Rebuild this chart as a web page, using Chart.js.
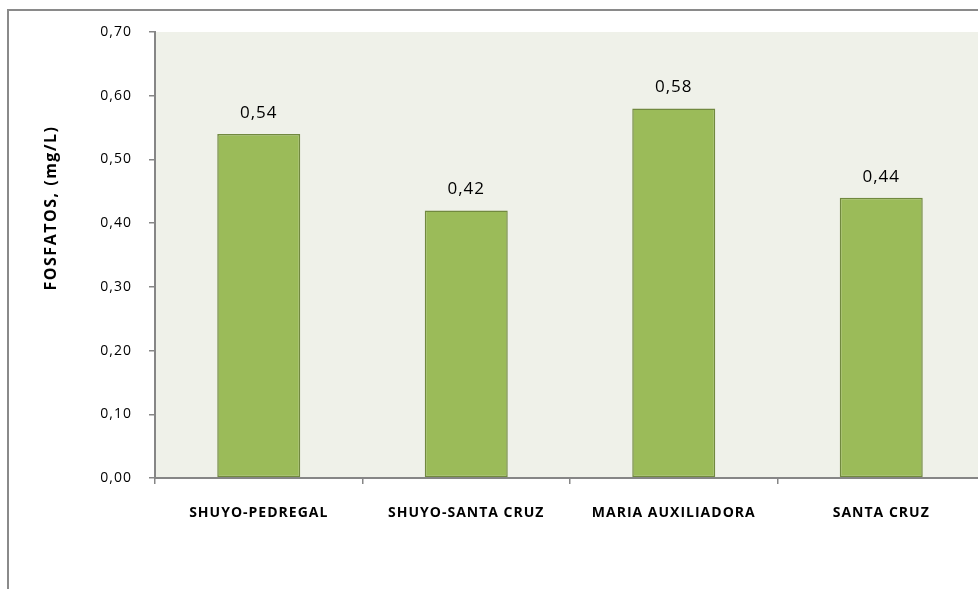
<!DOCTYPE html>
<html>
<head>
<meta charset="utf-8">
<script src="https://cdn.jsdelivr.net/npm/chart.js@4/dist/chart.umd.min.js"></script>
<style>
    html, body { margin: 0; padding: 0; background: #ffffff; overflow: hidden; }
    #caixa { position: relative; width: 1000px; height: 589px; }
</style>
</head>
<body>
<div id="caixa"><canvas id="grafico_fosfatos"></canvas></div>
<script>
// Pontos de coleta e fosfatos medidos (mg/L)
var pontos = ["SHUYO-PEDREGAL", "SHUYO-SANTA CRUZ", "MARIA AUXILIADORA", "SANTA CRUZ"];
var fosfatos = [0.54, 0.42, 0.58, 0.44];
var marcasY = [0.00, 0.10, 0.20, 0.30, 0.40, 0.50, 0.60, 0.70];
var tituloY = "FOSFATOS, (mg/L)";

var corEixo = "#868686";
var fonte = "'Open Sans', sans-serif";

function formatar(v) {
    return v.toFixed(2).replace(".", ",");
}

// Fundo branco, moldura externa e fundo da área de plotagem
var pluginFundo = {
    id: "fundo",
    beforeDraw: function (chart) {
        var ctx = chart.ctx;
        var area = chart.chartArea;
        ctx.save();
        ctx.fillStyle = "#ffffff";
        ctx.fillRect(0, 0, chart.width, chart.height);
        ctx.fillStyle = "#eff1e9";
        ctx.fillRect(area.left, area.top, area.right - area.left, area.bottom - area.top);
        ctx.strokeStyle = "#8a8a8a";
        ctx.lineWidth = 2;
        ctx.beginPath();
        ctx.moveTo(8, chart.height + 5);
        ctx.lineTo(8, 10);
        ctx.lineTo(chart.width + 5, 10);
        ctx.stroke();
        ctx.restore();
        ctx.letterSpacing = "1px";
    }
};

// Rótulos com o valor acima de cada barra
var pluginRotulos = {
    id: "rotulos",
    afterDatasetsDraw: function (chart) {
        var ctx = chart.ctx;
        var meta = chart.getDatasetMeta(0);
        ctx.save();
        ctx.letterSpacing = "1px";
        ctx.font = "17px " + fonte;
        ctx.fillStyle = "#000000";
        ctx.textAlign = "center";
        ctx.textBaseline = "alphabetic";
        meta.data.forEach(function (barra, i) {
            ctx.fillText(formatar(fosfatos[i]), barra.x, barra.y - 16);
        });
        ctx.restore();
    }
};

// Título do eixo Y
var pluginTituloY = {
    id: "tituloY",
    afterDraw: function (chart) {
        var ctx = chart.ctx;
        var area = chart.chartArea;
        ctx.save();
        ctx.letterSpacing = "1.5px";
        ctx.translate(51, (area.top + area.bottom) / 2 - 47);
        ctx.rotate(-Math.PI / 2);
        ctx.font = "bold 16px " + fonte;
        ctx.fillStyle = "#000000";
        ctx.textAlign = "center";
        ctx.textBaseline = "middle";
        ctx.fillText(tituloY, 0, 0);
        ctx.restore();
    }
};

var ctx1 = document.getElementById("grafico_fosfatos").getContext("2d");
var grafico = new Chart(ctx1, {
    type: "bar",
    data: {
        labels: pontos,
        datasets: [{
            label: "Fosfatos",
            data: fosfatos,
            backgroundColor: "#9bbb59",
            borderColor: "#71893f",
            borderWidth: 1.5,
            borderSkipped: false,
            barPercentage: 0.4,
            categoryPercentage: 1.0
        }]
    },
    options: {
        responsive: true,
        maintainAspectRatio: false,
        animation: false,
        layout: {
            padding: { top: 32, right: 15, left: 0, bottom: 0 }
        },
        scales: {
            x: {
                grid: {
                    display: true,
                    drawOnChartArea: false,
                    drawTicks: true,
                    tickLength: 6,
                    offset: true,
                    color: corEixo,
                    lineWidth: 1.5
                },
                border: {
                    display: true,
                    color: corEixo,
                    width: 2,
                    z: 1
                },
                ticks: {
                    color: "#000000",
                    padding: 21,
                    maxRotation: 0,
                    autoSkip: false,
                    font: { family: fonte, size: 14, weight: "bold" }
                },
                afterFit: function (scale) { scale.height = 111; }
            },
            y: {
                min: 0,
                max: 0.7,
                afterBuildTicks: function (scale) {
                    scale.ticks = marcasY.map(function (v) { return { value: v }; });
                },
                grid: {
                    display: true,
                    drawOnChartArea: false,
                    drawTicks: true,
                    tickLength: 6,
                    color: corEixo,
                    lineWidth: 1.5
                },
                border: {
                    display: true,
                    color: corEixo,
                    width: 2,
                    z: 1
                },
                ticks: {
                    color: "#000000",
                    padding: 17,
                    font: { family: fonte, size: 14 },
                    callback: function (v) { return formatar(v); }
                },
                afterFit: function (scale) { scale.width = 155; }
            }
        },
        plugins: {
            legend: { display: false },
            tooltip: { enabled: false }
        }
    },
    plugins: [pluginFundo, pluginRotulos, pluginTituloY]
});
</script>
</body>
</html>
